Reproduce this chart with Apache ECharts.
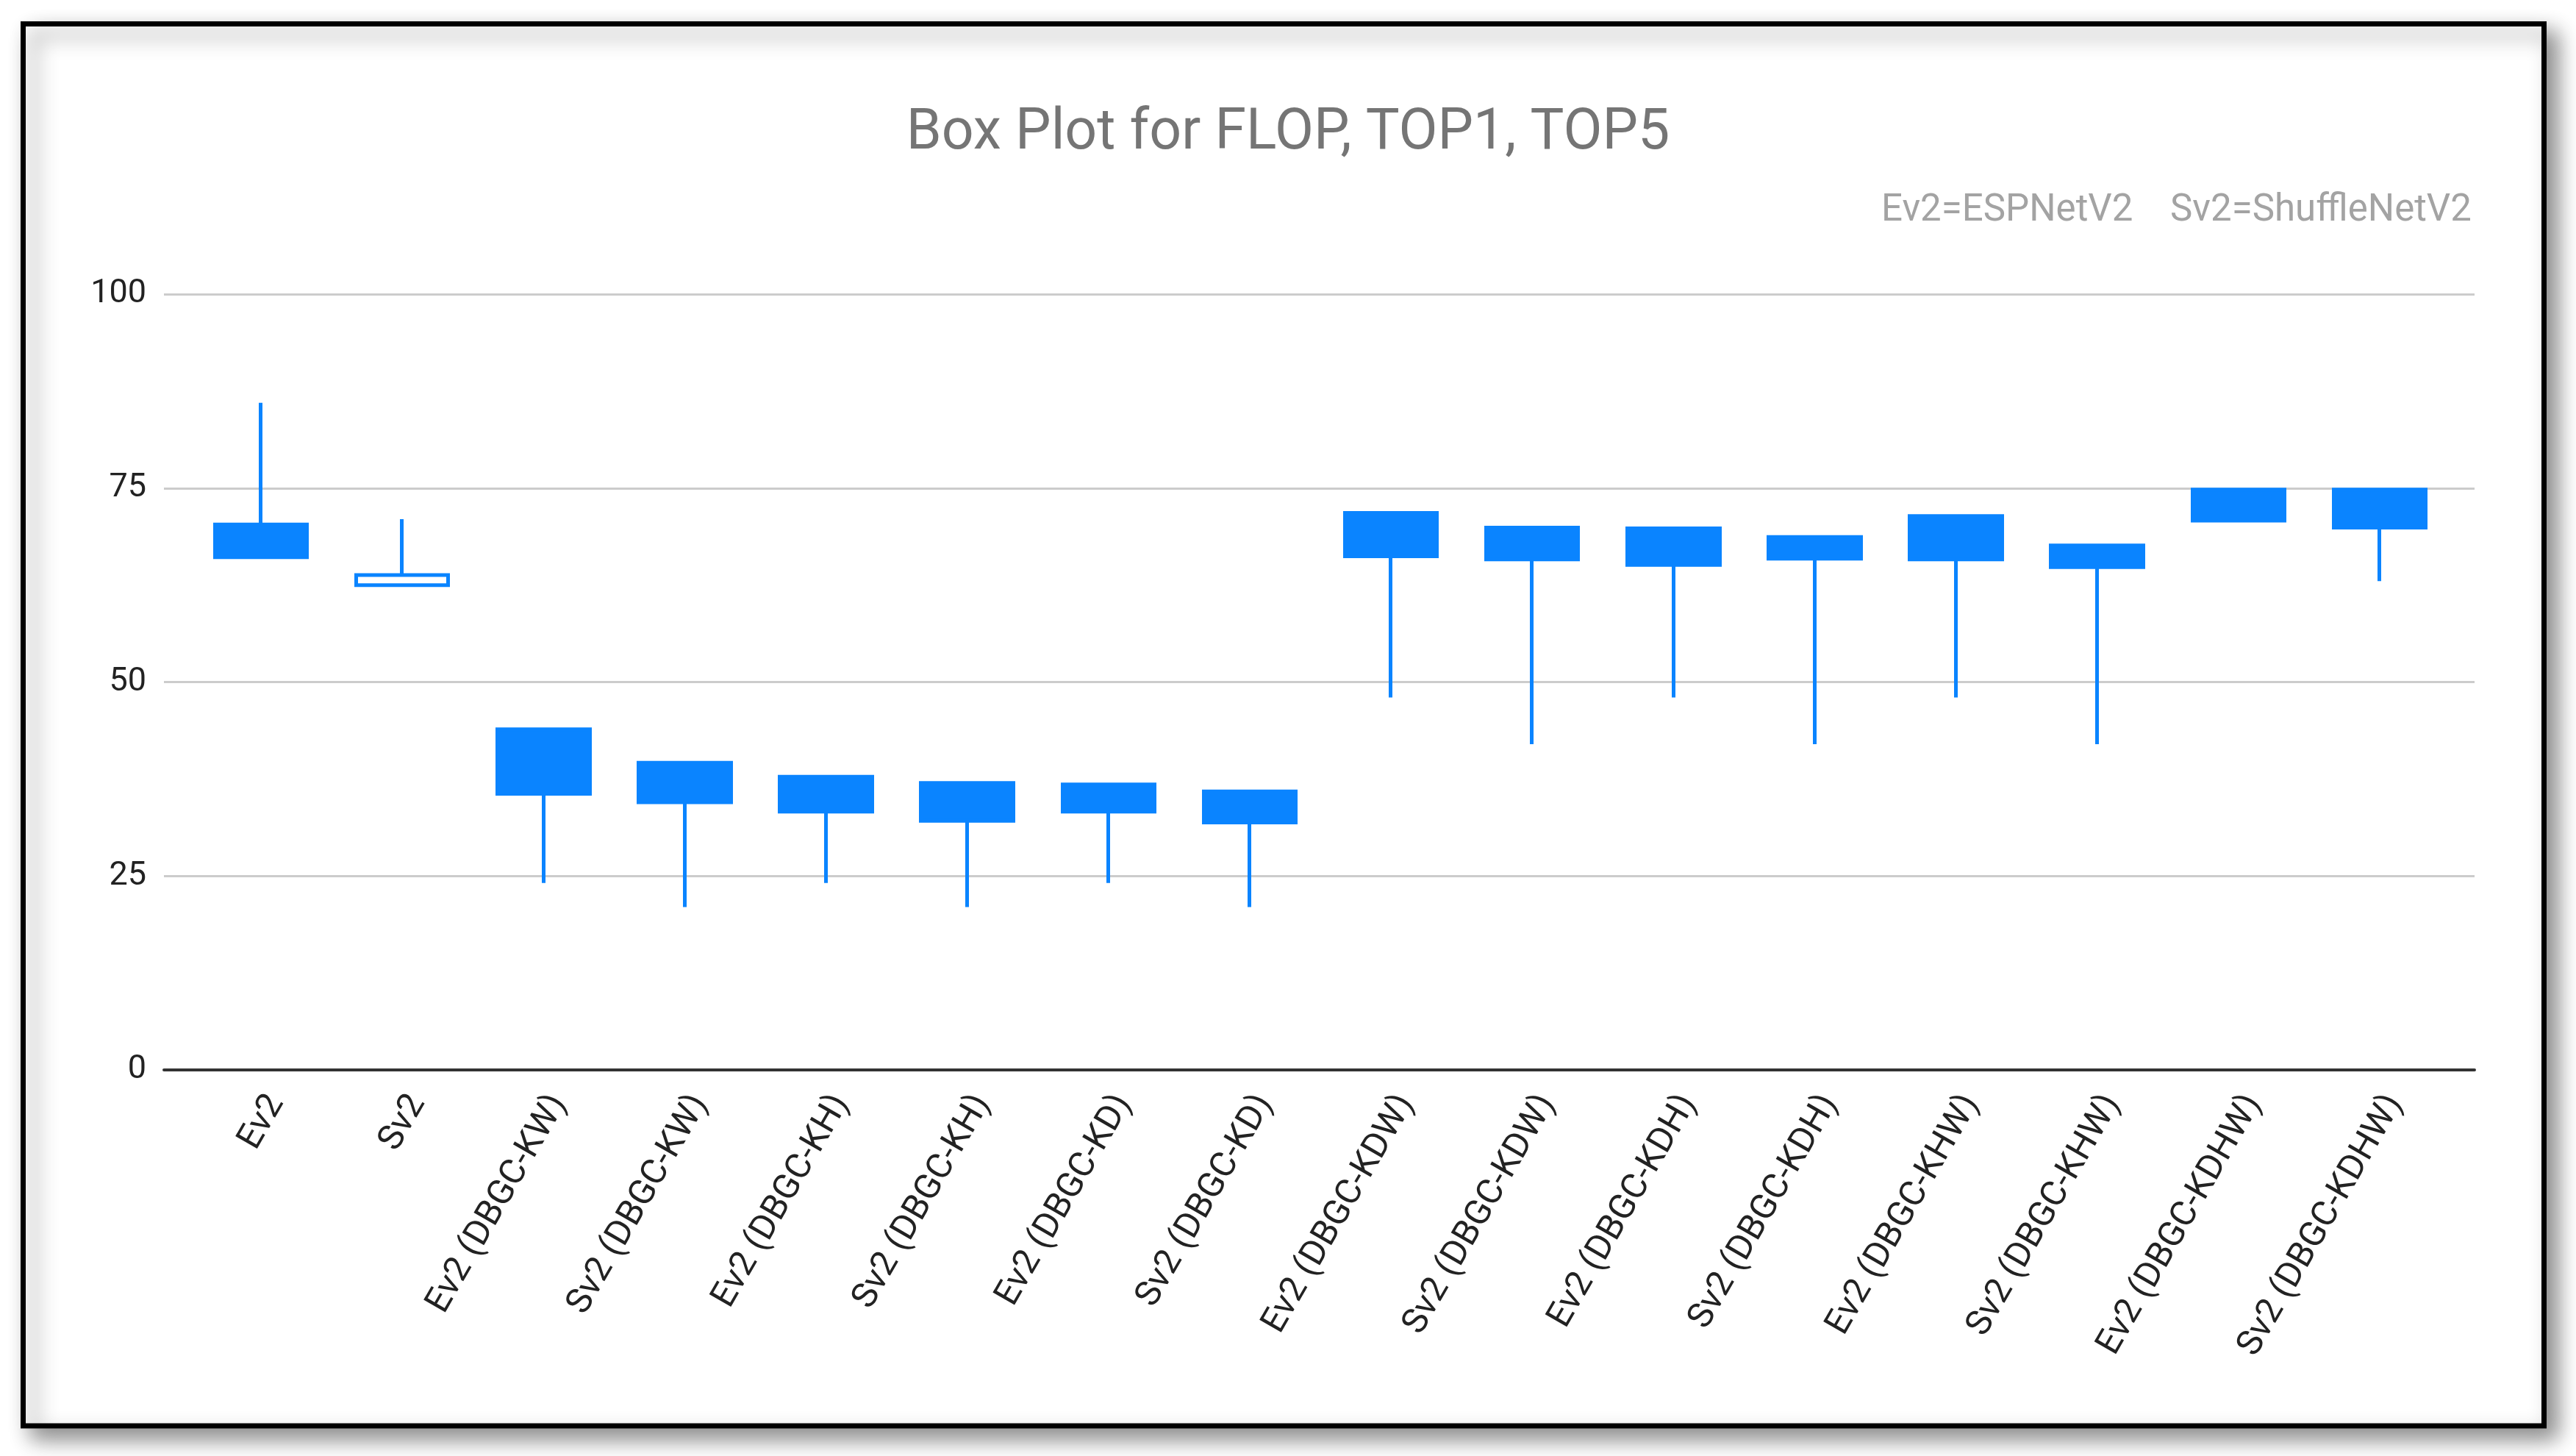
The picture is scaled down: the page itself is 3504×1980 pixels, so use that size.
<!DOCTYPE html>
<html>
<head>
<meta charset="utf-8">
<style>
  html, body { margin: 0; padding: 0; background: #ffffff; }
  #chart { width: 3504px; height: 1980px; }
</style>
<script src="https://cdn.jsdelivr.net/npm/echarts@6/dist/echarts.min.js"></script>
</head>
<body>
<div id="chart"></div>
<script>
// ---- data ----
var categories = [
  'Ev2', 'Sv2',
  'Ev2 (DBGC-KW)', 'Sv2 (DBGC-KW)',
  'Ev2 (DBGC-KH)', 'Sv2 (DBGC-KH)',
  'Ev2 (DBGC-KD)', 'Sv2 (DBGC-KD)',
  'Ev2 (DBGC-KDW)', 'Sv2 (DBGC-KDW)',
  'Ev2 (DBGC-KDH)', 'Sv2 (DBGC-KDH)',
  'Ev2 (DBGC-KHW)', 'Sv2 (DBGC-KHW)',
  'Ev2 (DBGC-KDHW)', 'Sv2 (DBGC-KDHW)'
];
var openVals  = [70.3, 62.5, 43.9, 39.6, 37.8, 37.0, 36.8, 35.9, 71.8, 69.9, 69.8, 68.7, 71.4, 67.6, 74.8, 74.8];
var closeVals = [66.1, 63.8, 35.6, 34.5, 33.3, 32.1, 33.3, 31.9, 66.2, 65.8, 65.1, 65.9, 65.8, 64.8, 70.8, 69.9];
var lowVals   = [66.1, 62.5, 24.1, 21.0, 24.1, 21.0, 24.1, 21.0, 48.0, 42.0, 48.0, 42.0, 48.0, 42.0, 70.8, 63.0];
var highVals  = [86.0, 71.0, 43.9, 39.6, 37.8, 37.0, 36.8, 35.9, 71.8, 69.9, 69.8, 68.7, 71.4, 67.6, 74.8, 74.8];
var yTicks = { min: 0, max: 100, interval: 25 };
var titleText = 'Box Plot for FLOP, TOP1, TOP5';
var noteText = 'Ev2=ESPNetV2    Sv2=ShuffleNetV2';

// build candlestick data: [open, close, lowest, highest]
var candleData = categories.map(function (c, i) {
  return [openVals[i], closeVals[i], lowVals[i], highVals[i]];
});

var blue = '#0a84ff';
var chart = echarts.init(document.getElementById('chart'), null, { renderer: 'canvas' });
chart.setOption({
  backgroundColor: '#ffffff',
  animation: false,
  textStyle: { fontFamily: 'Roboto' },
  graphic: [{
    type: 'rect',
    z: -10,
    silent: true,
    shape: { x: 31.5, y: 32.5, width: 3429, height: 1906.5 },
    style: {
      fill: '#ffffff', stroke: '#000000', lineWidth: 7,
      shadowBlur: 28, shadowOffsetX: 14, shadowOffsetY: 14,
      shadowColor: 'rgba(0,0,0,0.45)'
    }
  }],
  title: [{
    text: titleText,
    left: 'center',
    top: 139,
    textStyle: { fontFamily: 'Roboto', fontSize: 77, fontWeight: 'normal', color: '#757575' }
  }, {
    text: noteText,
    right: 137,
    top: 257,
    textStyle: { fontFamily: 'Roboto', fontSize: 51, fontWeight: 'normal', color: '#a3a3a3' }
  }],
  grid: [
    { left: 223, right: 138, top: 400, bottom: 525, containLabel: false },
    { left: 259, right: 171, top: 400, bottom: 525, containLabel: false }
  ],
  xAxis: [{
    gridIndex: 0, type: 'value', min: 0, max: 1,
    axisLine: { show: true, lineStyle: { color: '#333333', width: 4 } },
    axisTick: { show: false }, axisLabel: { show: false }, splitLine: { show: false }
  }, {
    gridIndex: 1, type: 'category', data: categories, boundaryGap: true,
    axisLine: { show: false }, axisTick: { show: false }, splitLine: { show: false },
    axisLabel: { interval: 0, rotate: 60, margin: 26, fontSize: 48, color: '#222222',
                 fontFamily: 'Roboto', verticalAlign: 'top' }
  }],
  yAxis: [{
    gridIndex: 0, type: 'value', min: yTicks.min, max: yTicks.max, interval: yTicks.interval,
    axisLine: { show: false }, axisTick: { show: false },
    axisLabel: { fontSize: 45, color: '#222222', margin: 24, fontFamily: 'Roboto' },
    splitLine: { show: true, lineStyle: { color: '#cccccc', width: 3 } }
  }, {
    gridIndex: 1, type: 'value', min: yTicks.min, max: yTicks.max, interval: yTicks.interval,
    show: false, splitLine: { show: false }
  }],
  series: [{
    type: 'candlestick',
    xAxisIndex: 1, yAxisIndex: 1,
    barWidth: 126,
    data: candleData,
    itemStyle: {
      color: '#ffffff', color0: blue,
      borderColor: blue, borderColor0: blue,
      borderWidth: 5
    }
  }]
});
</script>
</body>
</html>
